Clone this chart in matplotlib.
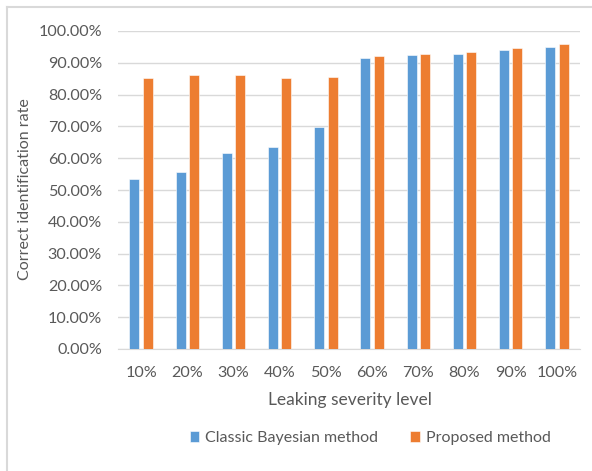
import matplotlib
matplotlib.use("Agg")
import matplotlib.pyplot as plt
import numpy as np

plt.rcParams['font.family'] = ['Lato', 'DejaVu Sans']

levels = ["10%", "20%", "30%", "40%", "50%", "60%", "70%", "80%", "90%", "100%"]
classic = [53.6, 55.7, 61.6, 63.6, 69.9, 91.6, 92.6, 92.9, 94.0, 94.9]
proposed = [85.1, 86.1, 86.1, 85.1, 85.4, 92.0, 92.9, 93.4, 94.5, 95.8]
series_names = ["Classic Bayesian method", "Proposed method"]
yticks = [0, 10, 20, 30, 40, 50, 60, 70, 80, 90, 100]

BLUE = "#5B9BD5"
ORANGE = "#ED7D31"
TEXT = "#595959"
GRID = "#D9D9D9"

W, H = 592, 471
fig = plt.figure(figsize=(W / 100, H / 100), dpi=100)
fig.patch.set_facecolor("white")

# chart frame (top and left edges visible)
fig.add_artist(plt.Line2D([7 / W, 7 / W], [0, 1 - 7 / H], transform=fig.transFigure,
                          color="#D9D9D9", lw=1.5))
fig.add_artist(plt.Line2D([7 / W, 1], [1 - 7 / H, 1 - 7 / H], transform=fig.transFigure,
                          color="#D9D9D9", lw=1.5))

left, right, top, bottom = 118, 580, 31, 349
ax = fig.add_axes([left / W, 1 - bottom / H, (right - left) / W, (bottom - top) / H])

x = np.arange(len(levels))
bw = 0.215
gap = 0.075
ax.bar(x - (bw + gap) / 2, classic, width=bw, color=BLUE, edgecolor="white",
       linewidth=0.4, label=series_names[0], zorder=3)
ax.bar(x + (bw + gap) / 2, proposed, width=bw, color=ORANGE, edgecolor="white",
       linewidth=0.4, label=series_names[1], zorder=3)

ax.set_xlim(-0.5, len(levels) - 0.5)
ax.set_ylim(0, 100)
ax.set_yticks(yticks)
ax.set_yticklabels([f"{v:.2f}%" for v in yticks])
ax.set_xticks(x)
ax.set_xticklabels(levels)
ax.tick_params(axis="both", length=0, labelsize=11.6, colors=TEXT)
ax.tick_params(axis="y", pad=11.5)
ax.tick_params(axis="x", pad=12)
ax.grid(axis="y", color=GRID, lw=1, zorder=0)
for s in ["top", "right", "left"]:
    ax.spines[s].set_visible(False)
ax.spines["bottom"].set_color(GRID)

fig.text(25 / W, 1 - 189 / H, "Correct identification rate", rotation=90,
         ha="center", va="center", fontsize=11.5, color=TEXT)
fig.text(350 / W, 1 - 400 / H, "Leaking severity level", ha="center", va="center",
         fontsize=12.5, color=TEXT)

handles, labels = ax.get_legend_handles_labels()
leg = fig.legend(handles, labels, loc="center", bbox_to_anchor=(370 / W, 1 - 438 / H),
                 ncol=2, frameon=False, fontsize=11.5, handlelength=0.62, handleheight=0.62,
                 columnspacing=2.0, handletextpad=0.35, labelcolor=TEXT)

fig.savefig("out.png", dpi=100, facecolor="white")
